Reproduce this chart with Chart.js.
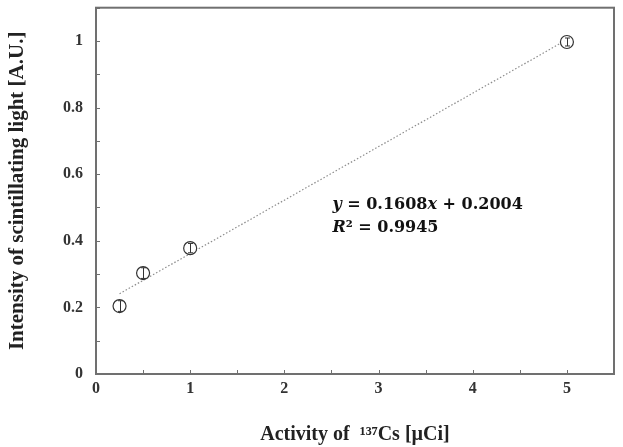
<!DOCTYPE html>
<html>
<head>
<meta charset="utf-8">
<script src="https://cdn.jsdelivr.net/npm/chart.js@4/dist/chart.umd.min.js"></script>
<style>
	html, body { margin: 0; padding: 0; background: #fff; }
	#wrap { width: 623px; height: 447px; position: relative; }
</style>
</head>
<body>
<div id="wrap"><canvas id="chart"></canvas></div>
<script>
// Measured points (activity in µCi vs. normalised light intensity)
const activity = [0.25, 0.5, 1, 5];
const intensity = [0.204, 0.303, 0.378, 0.997];
const intensityErr = [0.016, 0.016, 0.014, 0.012];

// Linear fit line end points
const fitX = [0.25, 5];
const fitY = [0.241, 1.004];

const xTicks = [0, 1, 2, 3, 4, 5];
const yTicks = [0, 0.2, 0.4, 0.6, 0.8, 1];

const serif = '"Liberation Serif", "Times New Roman", serif';
const frameColor = '#707070';

// frame around the plot, small inward ticks, error bars and the fit equation
const extras = {
	id: 'extras',
	beforeDatasetsDraw(chart) {
		const { ctx, chartArea: a, scales: { x, y } } = chart;
		ctx.save();
		ctx.strokeStyle = frameColor;
		ctx.lineWidth = 1;
		for (let v = 0.5; v < 5.5; v += 0.5) {
			const px = Math.round(x.getPixelForValue(v)) + 0.5;
			ctx.beginPath();
			ctx.moveTo(px, a.bottom);
			ctx.lineTo(px, a.bottom - 4);
			ctx.stroke();
		}
		for (let v = 0.1; v < 1.1; v += 0.1) {
			const py = Math.round(y.getPixelForValue(v)) + 0.5;
			ctx.beginPath();
			ctx.moveTo(a.left, py);
			ctx.lineTo(a.left + 4, py);
			ctx.stroke();
		}
		ctx.lineWidth = 2;
		ctx.strokeRect(a.left, a.top, a.right - a.left, a.bottom - a.top);
		ctx.restore();
	},
	afterDatasetsDraw(chart) {
		const { ctx, scales: { x, y } } = chart;
		ctx.save();
		ctx.strokeStyle = '#333';
		ctx.lineWidth = 1;
		activity.forEach((v, i) => {
			const px = Math.round(x.getPixelForValue(v)) + 0.5;
			const top = y.getPixelForValue(intensity[i] + intensityErr[i]);
			const bot = y.getPixelForValue(intensity[i] - intensityErr[i]);
			ctx.beginPath();
			ctx.moveTo(px, top);
			ctx.lineTo(px, bot);
			ctx.moveTo(px - 2.5, top);
			ctx.lineTo(px + 2.5, top);
			ctx.moveTo(px - 2.5, bot);
			ctx.lineTo(px + 2.5, bot);
			ctx.stroke();
		});

		// equation text
		const left = x.getPixelForValue(2.51);
		const base = y.getPixelForValue(0.495);
		ctx.fillStyle = '#111';
		ctx.textBaseline = 'alphabetic';
		const pieces = [
			[['y', true], [' = 0.1608', false], ['x', true], [' + 0.2004', false]],
			[['R', true], ['²', false], [' = 0.9945', false]],
		];
		pieces.forEach((line, li) => {
			let cx = left;
			line.forEach(([t, it]) => {
				ctx.font = (it ? 'italic ' : '') + 'bold 16px "DejaVu Serif", serif';
				ctx.fillText(t, cx, base + li * 23);
				cx += ctx.measureText(t).width;
			});
		});
		ctx.restore();
	},
};

const ctx = document.getElementById('chart').getContext('2d');
const chart = new Chart(ctx, {
	type: 'scatter',
	data: {
		datasets: [
			{
				label: 'fit',
				type: 'line',
				data: fitX.map((v, i) => ({ x: v, y: fitY[i] })),
				borderColor: '#8c8c8c',
				borderWidth: 1.2,
				borderDash: [1.5, 2],
				pointRadius: 0,
				fill: false,
				order: 2,
			},
			{
				label: 'data',
				data: activity.map((v, i) => ({ x: v, y: intensity[i] })),
				pointRadius: 6.5,
				pointBorderWidth: 1.2,
				pointBorderColor: '#333',
				pointBackgroundColor: 'rgba(255,255,255,0.9)',
				order: 1,
			},
		],
	},
	options: {
		responsive: true,
		maintainAspectRatio: false,
		animation: false,
		layout: {
			padding: { left: 0, top: 7, right: 9, bottom: 0 },
		},
		plugins: {
			legend: { display: false },
			tooltip: { enabled: false },
		},
		scales: {
			x: {
				type: 'linear',
				min: 0,
				max: 5.5,
				afterFit(scale) {
					scale.height = 73;
					scale.paddingLeft = 0;
					scale.paddingRight = 0;
				},
				afterBuildTicks(scale) { scale.ticks = xTicks.map(v => ({ value: v })); },
				grid: { display: false, drawTicks: false },
				border: { display: false },
				ticks: {
					padding: 5,
					color: '#333',
					font: { family: serif, size: 16, weight: 'bold' },
					callback: v => String(v),
				},
				title: {
					display: true,
					text: 'Activity of  ¹³⁷Cs [µCi]',
					color: '#222',
					padding: { top: 0, bottom: 0 },
					font: { family: serif, size: 20, weight: 'bold' },
				},
			},
			y: {
				min: 0,
				max: 1.1,
				afterFit(scale) {
					scale.width = 96;
					scale.paddingTop = 0;
					scale.paddingBottom = 0;
				},
				afterBuildTicks(scale) { scale.ticks = yTicks.map(v => ({ value: v })); },
				grid: { display: false, drawTicks: false },
				border: { display: false },
				ticks: {
					padding: 13,
					color: '#333',
					font: { family: serif, size: 16, weight: 'bold' },
					callback: v => String(+v.toFixed(1)),
				},
				title: {
					display: true,
					text: 'Intensity of scintillating light [A.U.]',
					color: '#222',
					padding: { top: 5, bottom: 0 },
					font: { family: serif, size: 21, weight: 'bold' },
				},
			},
		},
	},
	plugins: [extras],
});
</script>
</body>
</html>
